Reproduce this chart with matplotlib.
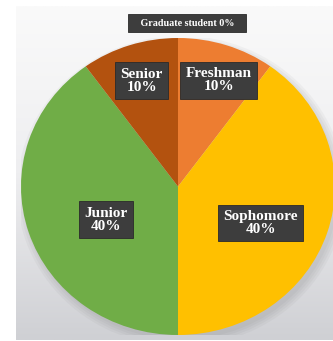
import numpy as np
import matplotlib
matplotlib.use('Agg')
import matplotlib.pyplot as plt
from matplotlib.patches import Ellipse

# data
classes = ['Graduate student', 'Freshman', 'Sophomore', 'Junior', 'Senior']
shares = [0, 10, 40, 40, 10]
colors = ['#7f7f7f', '#ED7D31', '#FFC000', '#70AD47', '#B3520F']

# label placement (radius fraction, angle nudge in degrees)
label_dist = [1.10, 0.76, 0.58, 0.51, 0.75]
label_nudge = [-3, -2, -7, 8, 0]

plt.rcParams['font.family'] = ['Liberation Serif', 'DejaVu Serif']

fig = plt.figure(figsize=(3.33, 3.41), dpi=100)
fig.patch.set_facecolor('white')

# gradient panel behind the chart
bg = fig.add_axes([16 / 333, 1 / 341, 317 / 333, 334 / 341])
grad = np.linspace(0, 1, 256).reshape(-1, 1)
cmap = matplotlib.colors.LinearSegmentedColormap.from_list('bg', ['#fafafa', '#eeeef0', '#cfd0d4'])
bg.imshow(grad, aspect='auto', cmap=cmap, extent=[0, 1, 0, 1], origin='upper')
bg.set_axis_off()

ax = fig.add_axes([21 / 333, 6 / 341, 314 / 333, 297 / 341])
ax.set_axis_off()

# soft shadow
for i in range(4):
    ax.add_patch(Ellipse((0.02, -0.03), 2.0 + i * 0.03, 2.0 + i * 0.03,
                         facecolor='#606060', alpha=0.05, lw=0))

wedges, _ = ax.pie(shares, colors=colors, startangle=90, counterclock=False,
                   radius=1, wedgeprops=dict(linewidth=0))
ax.set_aspect('auto')
ax.set_xlim(-1, 1)
ax.set_ylim(-1, 1)

for w, name, val, d, nudge in zip(wedges, classes, shares, label_dist, label_nudge):
    mid = np.deg2rad((w.theta1 + w.theta2) / 2 + nudge)
    x, y = d * np.cos(mid), d * np.sin(mid)
    if val == 0:
        txt, fs, pad = f'   {name} {val}%   ', 7.3, 0.45
    else:
        txt, fs, pad = f'{name}\n{val}%', 11, 0.35
    ax.text(x, y, txt, ha='center', va='center', color='white', fontsize=fs,
            fontweight='bold', linespacing=1.0, clip_on=False,
            bbox=dict(boxstyle=f'square,pad={pad}', facecolor='#3d3d3d',
                      edgecolor='#2a2a2a', linewidth=0.6))

fig.savefig('out.png', dpi=100)
